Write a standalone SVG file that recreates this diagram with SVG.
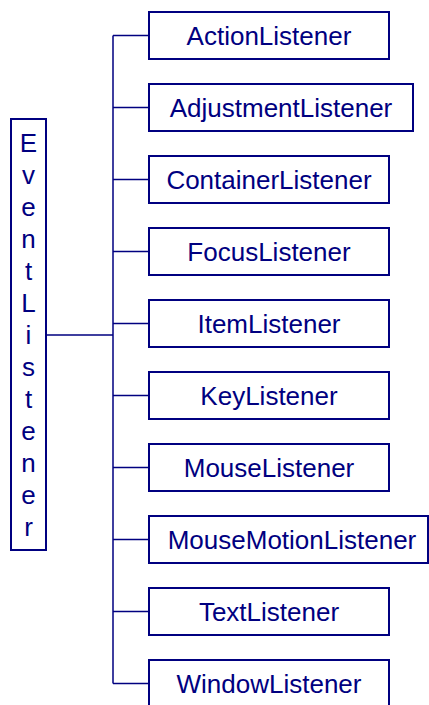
<svg xmlns="http://www.w3.org/2000/svg" width="429" height="705" viewBox="0 0 429 705">
<style>
.box{fill:#fff;stroke:#000080;stroke-width:2}
.t{font-family:"Liberation Sans",Arial,sans-serif;font-size:26px;fill:#000080;text-anchor:middle}
.c{stroke:#000080;stroke-width:1.5;fill:none}
</style>
<rect width="429" height="705" fill="#fff"/>
<g id="connectors">
<path class="c" d="M46 335H113M113 35.5V683.5M113 35.5H149M113 107.5H149M113 179.5H149M113 251.5H149M113 323.5H149M113 395.5H149M113 467.5H149M113 539.5H149M113 611.5H149M113 683.5H149"/>
</g>
<g id="EventListener">
<rect class="box" x="11" y="119" width="35" height="431"/>
<text class="t" x="28.5" y="152">E</text>
<text class="t" x="28.5" y="184">v</text>
<text class="t" x="28.5" y="216">e</text>
<text class="t" x="28.5" y="248">n</text>
<text class="t" x="28.5" y="280">t</text>
<text class="t" x="28.5" y="312">L</text>
<text class="t" x="28.5" y="344">i</text>
<text class="t" x="28.5" y="376">s</text>
<text class="t" x="28.5" y="408">t</text>
<text class="t" x="28.5" y="440">e</text>
<text class="t" x="28.5" y="472">n</text>
<text class="t" x="28.5" y="504">e</text>
<text class="t" x="28.5" y="536">r</text>
</g>
<g id="ActionListener"><rect class="box" x="149" y="12" width="240" height="47"/><text class="t" x="269" y="44.5">ActionListener</text></g>
<g id="AdjustmentListener"><rect class="box" x="149" y="84" width="264" height="47"/><text class="t" x="281" y="116.5">AdjustmentListener</text></g>
<g id="ContainerListener"><rect class="box" x="149" y="156" width="240" height="47"/><text class="t" x="269" y="188.5">ContainerListener</text></g>
<g id="FocusListener"><rect class="box" x="149" y="228" width="240" height="47"/><text class="t" x="269" y="260.5">FocusListener</text></g>
<g id="ItemListener"><rect class="box" x="149" y="300" width="240" height="47"/><text class="t" x="269" y="332.5">ItemListener</text></g>
<g id="KeyListener"><rect class="box" x="149" y="372" width="240" height="47"/><text class="t" x="269" y="404.5">KeyListener</text></g>
<g id="MouseListener"><rect class="box" x="149" y="444" width="240" height="47"/><text class="t" x="269" y="476.5">MouseListener</text></g>
<g id="MouseMotionListener"><rect class="box" x="149" y="516" width="279" height="47"/><text class="t" x="292" y="548.5">MouseMotionListener</text></g>
<g id="TextListener"><rect class="box" x="149" y="588" width="240" height="47"/><text class="t" x="269" y="620.5">TextListener</text></g>
<g id="WindowListener"><rect class="box" x="149" y="660" width="240" height="47"/><text class="t" x="269" y="692.5">WindowListener</text></g>
</svg>
